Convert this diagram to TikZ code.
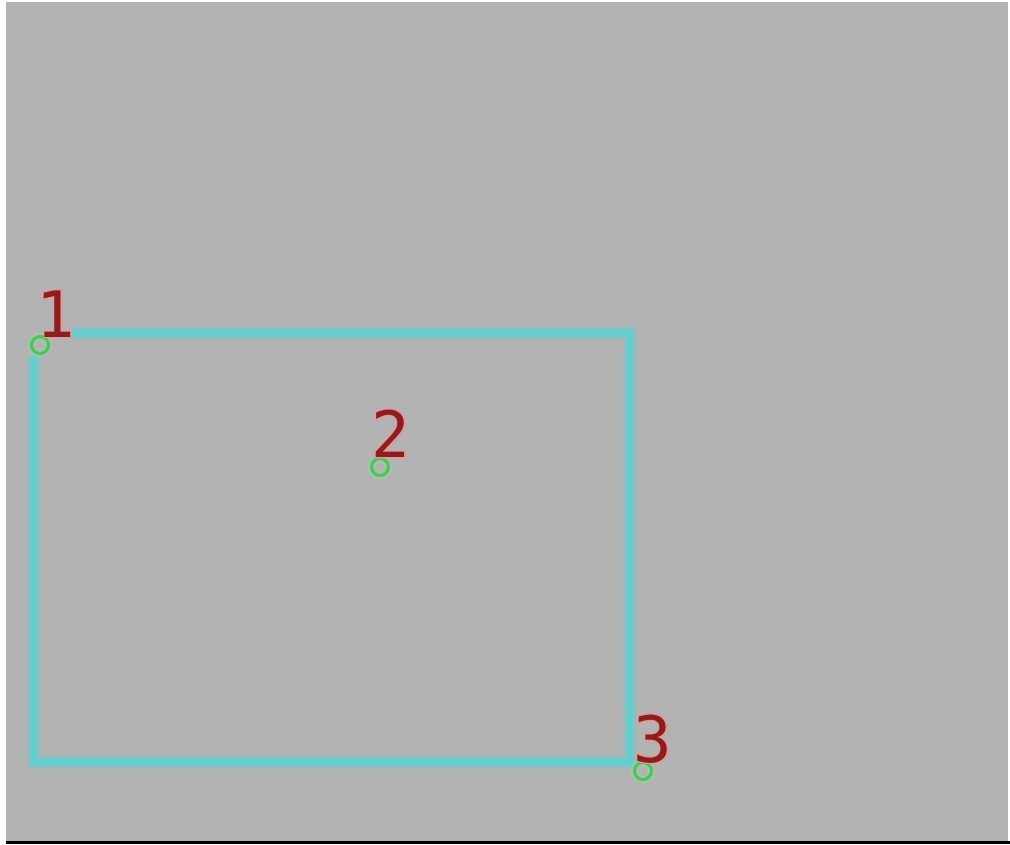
\documentclass[tikz,border=0pt]{standalone}
\usepackage{fontspec}
\newfontfamily\digitfont{DejaVu Sans Mono}
\newfontfamily\halofont[FakeBold=4]{DejaVu Sans Mono}
\definecolor{bggray}{RGB}{179,179,179}
\definecolor{cyanline}{RGB}{102,206,206}
\definecolor{dotgreen}{RGB}{70,200,90}
\definecolor{labred}{RGB}{140,30,30}
\definecolor{halo}{RGB}{232,150,150}
\tikzset{
  lab/.style={inner sep=0pt, anchor=base, text=labred, font=\fontsize{64}{64}\selectfont},
  dot/.style={circle, draw=dotgreen, line width=3pt, minimum size=17pt, inner sep=0pt},
  dotglow/.style={circle, draw=dotgreen!60!white, draw opacity=0.35, line width=8pt, minimum size=17pt, inner sep=0pt},
  edge/.style={draw=cyanline, line width=8pt},
  edgeglow/.style={draw=cyanline, line width=14pt, draw opacity=0.3}
}
\newcommand\glowtext[1]{\rlap{\halofont\color{halo}#1}{\digitfont#1}}
\begin{document}
\begin{tikzpicture}[x=1pt,y=-1pt]
\useasboundingbox (0,0) rectangle (1010,844);
\fill[white] (0,0) rectangle (1010,844);
\fill[bggray] (6,2) rectangle (1008,841);
\fill[black] (6,841) rectangle (1010,844);
% rectangle outline
\coordinate (ra) at (72,333);
\coordinate (rb) at (630,333);
\coordinate (rc) at (630,762);
\coordinate (rd) at (34,762);
\coordinate (re) at (34,356);
\draw[edgeglow] (ra) -- (rb) -- (rc) -- (rd) -- (re);
\draw[edge] (ra) -- (rb) -- (rc) -- (rd) -- (re);
% points
\node[dotglow] at (40,345) {};
\node[dotglow] at (380,467) {};
\node[dotglow] at (643,771) {};
\node[dot] (c1) at (40,345) {};
\node[dot] (c2) at (380,467) {};
\node[dot] (c3) at (643,771) {};
% labels
\node[lab] (l1) at (56,337) {\glowtext{1}};
\node[lab] (l2) at (391,457) {\glowtext{2}};
\node[lab] (l3) at (653,762) {\glowtext{3}};
\end{tikzpicture}
\end{document}
